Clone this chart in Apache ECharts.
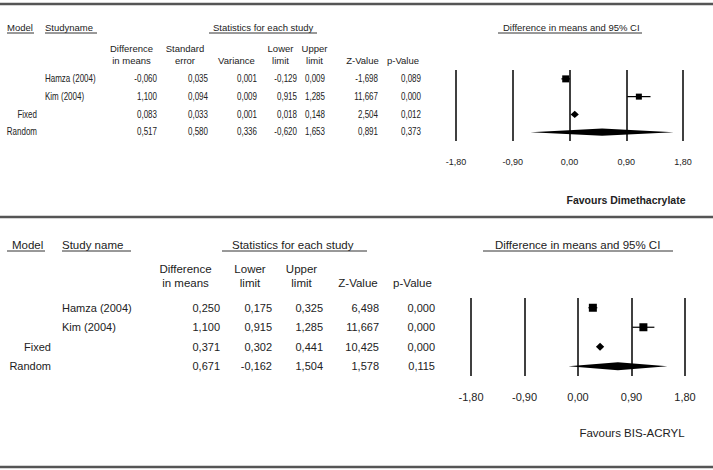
<!DOCTYPE html>
<html><head><meta charset="utf-8">
<script src="https://cdn.jsdelivr.net/npm/echarts@6/dist/echarts.min.js"></script>
<style>html,body{margin:0;padding:0;background:#fff}#c{width:713px;height:470px}</style>
</head><body><div id="c"></div>
<script>
// ---------- DATA ----------
const rowStudies = ['Hamza (2004)', 'Kim (2004)', '', ''];
const rowModels = ['', '', 'Fixed', 'Random'];
const rowKinds = ['study', 'study', 'fixed', 'random'];
const tickValues = [-1.80, -0.90, 0.00, 0.90, 1.80];

// Panel 1 (Dimethacrylate)
const diff1 = [-0.060, 1.100, 0.083, 0.517];
const se1 = [0.035, 0.094, 0.033, 0.580];
const var1 = [0.001, 0.009, 0.001, 0.336];
const lower1 = [-0.129, 0.915, 0.018, -0.620];
const upper1 = [0.009, 1.285, 0.148, 1.653];
const z1 = [-1.698, 11.667, 2.504, 0.891];
const p1 = [0.089, 0.000, 0.012, 0.373];
const favours1 = 'Favours Dimethacrylate';

// Panel 2 (BIS-ACRYL)
const diff2 = [0.250, 1.100, 0.371, 0.671];
const lower2 = [0.175, 0.915, 0.302, -0.162];
const upper2 = [0.325, 1.285, 0.441, 1.504];
const z2 = [6.498, 11.667, 10.425, 1.578];
const p2 = [0.000, 0.000, 0.000, 0.115];
const favours2 = 'Favours BIS-ACRYL';

// ---------- LAYOUT / STYLE ----------
const SANS = '"Liberation Sans",Arial,Helvetica,sans-serif';
const TXT = '#222';
const fmt3 = v => v.toFixed(3).replace('.', ',');
const fmt2 = v => v.toFixed(2).replace('.', ',');

const panels = [
  {
    grid: {left: 456, top: 70, width: 227, height: 71},
    dataFont: '10px ' + SANS, dataScale: 0.8, headFont: '9.5px ' + SANS, tickFont: 9, tickMargin: 16,
    favFont: 'bold 10.5px ' + SANS, favX: 626, favY: 200, favText: favours1,
    topY: 27, underY: 33, h1: 48, h2: 60,
    modelRight: 37, studyLeft: 45,
    titles: [
      {t: 'Model', x: 7, ux: [7, 34]},
      {t: 'Studyname', x: 45, ux: [45, 97]},
      {t: 'Statistics for each study', x: 213, ux: [209, 317]},
      {t: 'Difference in means and 95% CI', x: 503, ux: [498, 642]}
    ],
    cols: [
      {v: diff1, r: 157, c: 131.5, h: ['Difference', 'in means']},
      {v: se1, r: 208, c: 185, h: ['Standard', 'error']},
      {v: var1, r: 257, c: 236.5, h: ['', 'Variance']},
      {v: lower1, r: 297, c: 280.5, h: ['Lower', 'limit']},
      {v: upper1, r: 325, c: 314.5, h: ['Upper', 'limit']},
      {v: z1, r: 378, c: 362.5, h: ['', 'Z-Value']},
      {v: p1, r: 421, c: 403, h: ['', 'p-Value']}
    ],
    est: diff1, lo: lower1, hi: upper1,
    sq: [7, 6], dH: 3.6, lineBottom: 217
  },
  {
    grid: {left: 471, top: 298, width: 214, height: 78},
    dataFont: '11px ' + SANS, dataScale: 1, headFont: '11.5px ' + SANS, tickFont: 11, tickMargin: 15,
    favFont: '11.5px ' + SANS, favX: 632, favY: 433, favText: favours2,
    topY: 245, underY: 251, h1: 269, h2: 283,
    modelRight: 51, studyLeft: 62,
    titles: [
      {t: 'Model', x: 12, ux: [7, 45]},
      {t: 'Study name', x: 62, ux: [62, 131]},
      {t: 'Statistics for each study', x: 232, ux: [222, 367]},
      {t: 'Difference in means and 95% CI', x: 495, ux: [483, 673]}
    ],
    cols: [
      {v: diff2, r: 220, c: 185.5, h: ['Difference', 'in means']},
      {v: lower2, r: 272, c: 250, h: ['Lower', 'limit']},
      {v: upper2, r: 323, c: 301.5, h: ['Upper', 'limit']},
      {v: z2, r: 379, c: 358, h: ['', 'Z-Value']},
      {v: p2, r: 435, c: 412.5, h: ['', 'p-Value']}
    ],
    est: diff2, lo: lower2, hi: upper2,
    sq: [8, 8], dH: 4, lineBottom: 467
  }
];

const chart = echarts.init(document.getElementById('c'), null, {renderer: 'svg'});

function makeRender(pan) {
  return function (params, api) {
    const i = params.dataIndex;
    const kind = rowKinds[i];
    const c = api.coord([api.value(0), api.value(3)]);
    const l = api.coord([api.value(1), api.value(3)]);
    const h = api.coord([api.value(2), api.value(3)]);
    const children = [];
    if (kind === 'study') {
      const s = pan.sq[i];
      children.push({type: 'line', shape: {x1: l[0], y1: c[1], x2: h[0], y2: c[1]}, style: {stroke: '#000', lineWidth: 1.2}});
      children.push({type: 'rect', shape: {x: c[0] - s / 2, y: c[1] - s / 2, width: s, height: s}, style: {fill: '#000'}});
    } else {
      const d = pan.dH;
      children.push({type: 'polygon', shape: {points: [[l[0], c[1]], [c[0], c[1] - d], [h[0], c[1]], [c[0], c[1] + d]]}, style: {fill: '#000'}});
    }
    return {type: 'group', children};
  };
}

const option = {
  animation: false,
  backgroundColor: '#fff',
  grid: panels.map(p => Object.assign({containLabel: false}, p.grid)),
  xAxis: panels.map((p, k) => ({
    type: 'value', gridIndex: k, min: tickValues[0], max: tickValues[tickValues.length - 1],
    interval: tickValues[1] - tickValues[0],
    axisLine: {show: false}, axisTick: {show: false},
    splitLine: {show: true, lineStyle: {color: '#000', width: 1.5}},
    axisLabel: {margin: p.tickMargin, fontSize: p.tickFont, fontFamily: SANS, color: TXT,
      formatter: v => fmt2(v)}
  })),
  yAxis: panels.map((p, k) => ({
    type: 'category', gridIndex: k, inverse: true, data: rowKinds.map((_, i) => String(i)),
    axisLine: {show: false}, axisTick: {show: false}, axisLabel: {show: false}, splitLine: {show: false}
  })),
  series: panels.map((p, k) => ({
    type: 'custom', xAxisIndex: k, yAxisIndex: k, clip: false,
    renderItem: makeRender(p),
    data: p.est.map((e, i) => [e, p.lo[i], p.hi[i], i])
  }))
};
chart.setOption(option);

// ---------- TABLE TEXT (graphic) ----------
const g = [];
function txt(t, x, y, font, align, sx) {
  g.push({type: 'text', x, y, scaleX: sx || 1, silent: true,
    style: {text: t, font, fill: TXT, align, verticalAlign: 'middle'}});
}
function hline(x1, x2, y, w, col) {
  g.push({type: 'line', silent: true, shape: {x1, y1: y, x2, y2: y}, style: {stroke: col, lineWidth: w}});
}
hline(0, 713, 4, 2.5, '#555');
panels.forEach((p, k) => {
  p.titles.forEach(t => {
    txt(t.t, t.x, p.topY, p.headFont, 'left');
    hline(t.ux[0], t.ux[1], p.underY, 1, '#333');
  });
  p.cols.forEach(col => {
    if (col.h[0]) txt(col.h[0], col.c, p.h1, p.headFont, 'center');
    txt(col.h[1], col.c, p.h2, p.headFont, 'center');
  });
  rowKinds.forEach((_, i) => {
    const y = chart.convertToPixel({gridIndex: k}, [0, i])[1];
    if (rowModels[i]) txt(rowModels[i], p.modelRight, y, p.dataFont, 'right', p.dataScale);
    if (rowStudies[i]) txt(rowStudies[i], p.studyLeft, y, p.dataFont, 'left', p.dataScale);
    p.cols.forEach(col => txt(fmt3(col.v[i]), col.r, y, p.dataFont, 'right', p.dataScale));
  });
  txt(p.favText, p.favX, p.favY, p.favFont, 'center');
  hline(0, 713, p.lineBottom, 2.5, '#555');
});
chart.setOption({graphic: {elements: g}});
</script></body></html>
